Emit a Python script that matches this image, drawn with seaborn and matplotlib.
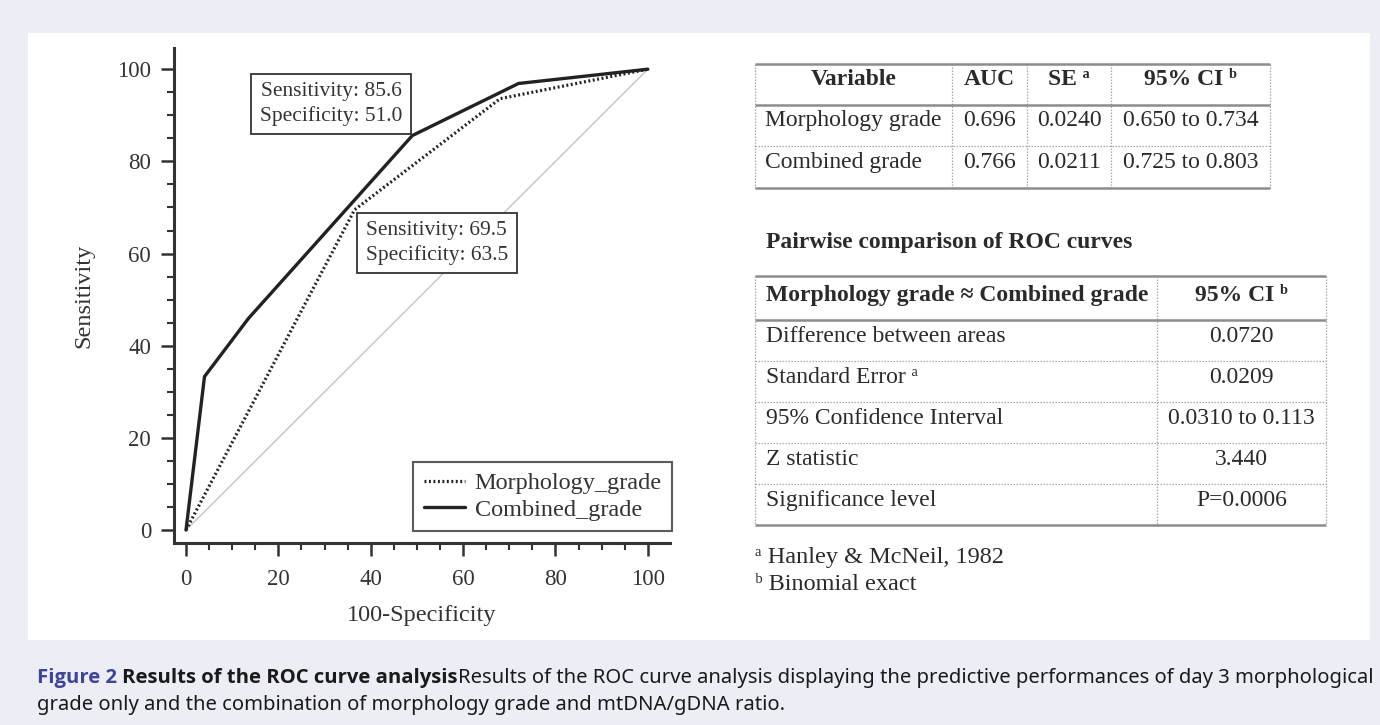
import numpy as np
import pandas as pd
import matplotlib
matplotlib.use("Agg")
import matplotlib.pyplot as plt
import seaborn as sns
from matplotlib.lines import Line2D
from matplotlib.patches import Rectangle
from matplotlib.ticker import MultipleLocator
from matplotlib import font_manager as fm

# ---------------- data ----------------
fpr_morph = [0, 36.5, 68.0, 100]
tpr_morph = [0, 69.5, 93.6, 100]
fpr_comb = [0, 4.0, 13.5, 49.0, 72.0, 100]
tpr_comb = [0, 33.3, 45.9, 85.6, 96.9, 100]
ref_line = [0, 100]
series_names = ["Morphology_grade", "Combined_grade"]
annot_comb = ["Sensitivity: 85.6", "Specificity: 51.0"]
annot_morph = ["Sensitivity: 69.5", "Specificity: 63.5"]
x_ticks = [0, 20, 40, 60, 80, 100]
y_ticks = [0, 20, 40, 60, 80, 100]
x_label = "100-Specificity"
y_label = "Sensitivity"

auc_header = ["Variable", "AUC", "SE \u1d43", "95% CI \u1d47"]
auc_variables = ["Morphology grade", "Combined grade"]
auc_values = ["0.696", "0.766"]
se_values = ["0.0240", "0.0211"]
ci_values = ["0.650 to 0.734", "0.725 to 0.803"]

pair_title = "Pairwise comparison of ROC curves"
pair_header = ["Morphology grade \u2248 Combined grade", "95% CI \u1d47"]
pair_labels = ["Difference between areas", "Standard Error \u1d43",
               "95% Confidence Interval", "Z statistic", "Significance level"]
pair_values = ["0.0720", "0.0209", "0.0310 to 0.113", "3.440", "P=0.0006"]
footnotes = ["\u1d43 Hanley & McNeil, 1982", "\u1d47 Binomial exact"]

caption_label = "Figure 2"
caption_title = "Results of the ROC curve analysis"
caption_line1 = ("Results of the ROC curve analysis displaying the predictive "
                 "performances of day 3 morphological")
caption_line2 = "grade only and the combination of morphology grade and mtDNA/gDNA ratio."

# ---------------- style ----------------
sns.set_theme(style="ticks")
SERIF = ["Liberation Serif", "DejaVu Serif", "DejaVu Sans"]
SANS = ["Noto Sans", "DejaVu Sans"]


def has_bold(name):
    for f in fm.fontManager.ttflist:
        if f.name == name and f.style == "normal":
            w = f.weight
            if isinstance(w, str):
                w = fm.weight_dict.get(w, 400)
            if w >= 600:
                return True
    return False


_bold_family = next((n for n in ["Noto Sans", "Open Sans", "Lato"] if has_bold(n)), "DejaVu Sans")
SANS_BOLD = [_bold_family, "DejaVu Sans"]

plt.rcParams["font.family"] = SERIF
plt.rcParams["axes.unicode_minus"] = False
INK = "#333333"

W, H = 1380, 725
fig = plt.figure(figsize=(W / 100, H / 100), dpi=100)
fig.patch.set_facecolor("#ECEDF5")

# overlay in pixel coordinates for panel, tables and caption
ov = fig.add_axes([0, 0, 1, 1], zorder=0)
ov.set_xlim(0, W)
ov.set_ylim(H, 0)
ov.axis("off")
ov.add_patch(Rectangle((28, 33), 1342, 607, fc="white", ec="none"))

# ---------------- ROC axes ----------------
ax = fig.add_axes([174 / W, (H - 543) / H, (670 - 174) / W, (543 - 48) / H], zorder=2)
ax.patch.set_alpha(0)

sns.lineplot(x=ref_line, y=ref_line, ax=ax, color="#c4c4c4", lw=1.0,
             estimator=None, sort=False, zorder=1)
df_m = pd.DataFrame({"fpr": fpr_morph, "tpr": tpr_morph})
df_c = pd.DataFrame({"fpr": fpr_comb, "tpr": tpr_comb})
sns.lineplot(data=df_m, x="fpr", y="tpr", ax=ax, color="#222222", lw=2.3,
             linestyle=(0, (0.6, 0.8)), estimator=None, sort=False, zorder=3)
sns.lineplot(data=df_c, x="fpr", y="tpr", ax=ax, color="#222222", lw=2.4,
             estimator=None, sort=False, zorder=3)
line_morph = ax.lines[1]
line_comb = ax.lines[2]

ax.set_xlim(-2.6, 104.8)
ax.set_ylim(-2.8, 104.6)
ax.set_xticks(x_ticks)
ax.set_yticks(y_ticks)
ax.xaxis.set_minor_locator(MultipleLocator(5))
ax.yaxis.set_minor_locator(MultipleLocator(5))
sns.despine(ax=ax)
for s in ["left", "bottom"]:
    ax.spines[s].set_linewidth(2.2)
    ax.spines[s].set_color(INK)
ax.tick_params(which="major", length=9.5, width=1.8, color=INK,
               labelsize=16.5, labelcolor=INK)
ax.tick_params(axis="x", which="major", pad=9)
ax.tick_params(axis="y", which="major", pad=7)
ax.tick_params(which="minor", length=4.8, width=1.5, color=INK)
ax.grid(False)
ax.set_xlabel(x_label, fontsize=17.5, color=INK, labelpad=11)
ax.set_ylabel(y_label, fontsize=17.5, color=INK, labelpad=16)

pad_frac = 0.4
fs_ann = 15.5
pad_pt = pad_frac * fs_ann
box = dict(boxstyle=f"square,pad={pad_frac}", fc="white", ec=INK, lw=1.3)
ax.annotate("\n".join(annot_comb), xy=(fpr_comb[3], tpr_comb[3]),
            xytext=(-pad_pt - 1, pad_pt + 1), textcoords="offset points",
            ha="right", va="bottom", fontsize=fs_ann, color=INK,
            linespacing=1.3, bbox=box, zorder=6)
ax.annotate("\n".join(annot_morph), xy=(fpr_morph[1], tpr_morph[1]),
            xytext=(pad_pt + 2, -pad_pt - 2), textcoords="offset points",
            ha="left", va="top", fontsize=fs_ann, color=INK,
            linespacing=1.3, bbox=box, zorder=6)

leg = ax.legend([line_morph, line_comb], series_names, loc="lower right",
                bbox_to_anchor=(1.004, 0.024), frameon=True, fancybox=False,
                edgecolor=INK, fontsize=17.5, handlelength=1.7, handletextpad=0.4,
                borderpad=0.42, labelspacing=0.2, borderaxespad=0)
leg.get_frame().set_linewidth(1.5)
for t in leg.get_texts():
    t.set_color(INK)

# ---------------- tables ----------------
SOLID = dict(color="#8c8c8c", lw=1.8, solid_capstyle="butt")
DOT = dict(color="#a8a8a8", lw=0.9, linestyle=(0, (1.2, 1.2)))
TXT = "#2a2a2a"
fs_tab = 17


def hline(x0, x1, y, style):
    ov.add_line(Line2D([x0, x1], [y, y], **style))


def vline(x, y0, y1, style):
    ov.add_line(Line2D([x, x], [y0, y1], **style))


# table 1
t1_x = [755, 952, 1027, 1111, 1270]
t1_y = [64, 105, 146, 188]
for x in t1_x:
    vline(x, t1_y[0], t1_y[-1], DOT)
hline(t1_x[0], t1_x[-1], t1_y[0], SOLID)
hline(t1_x[0], t1_x[-1], t1_y[1], SOLID)
hline(t1_x[0], t1_x[-1], t1_y[2], DOT)
hline(t1_x[0], t1_x[-1], t1_y[3], SOLID)
centers1 = [(t1_x[i] + t1_x[i + 1]) / 2 for i in range(4)]
for i, h in enumerate(auc_header):
    ov.text(centers1[i], (t1_y[0] + t1_y[1]) / 2 - 5, h, ha="center", va="center",
            fontsize=fs_tab, fontweight="bold", color=TXT)
for r in range(2):
    yc = (t1_y[r + 1] + t1_y[r + 2]) / 2 - 5
    ov.text(t1_x[0] + 10, yc, auc_variables[r], ha="left", va="center",
            fontsize=fs_tab, color=TXT)
    ov.text(centers1[1], yc, auc_values[r], ha="center", va="center", fontsize=fs_tab, color=TXT)
    ov.text(centers1[2], yc, se_values[r], ha="center", va="center", fontsize=fs_tab, color=TXT)
    ov.text(centers1[3], yc, ci_values[r], ha="center", va="center", fontsize=fs_tab, color=TXT)

# pairwise title
ov.text(766, 242, pair_title, ha="left", va="center", fontsize=17,
        fontweight="bold", color=TXT)

# table 2
t2_x = [755, 1157, 1326]
t2_y = [276, 320, 361, 402, 443, 484, 525]
for x in t2_x:
    vline(x, t2_y[0], t2_y[-1], DOT)
for j, y in enumerate(t2_y):
    hline(t2_x[0], t2_x[-1], y, SOLID if j in (0, 1, len(t2_y) - 1) else DOT)
c2 = (t2_x[1] + t2_x[2]) / 2
ov.text(t2_x[0] + 11, (t2_y[0] + t2_y[1]) / 2 - 3, pair_header[0], ha="left",
        va="center", fontsize=fs_tab, fontweight="bold", color=TXT)
ov.text(c2, (t2_y[0] + t2_y[1]) / 2 - 3, pair_header[1], ha="center",
        va="center", fontsize=fs_tab, fontweight="bold", color=TXT)
for r in range(len(pair_labels)):
    yc = (t2_y[r + 1] + t2_y[r + 2]) / 2 - 4
    ov.text(t2_x[0] + 11, yc, pair_labels[r], ha="left", va="center",
            fontsize=fs_tab, color=TXT)
    ov.text(c2, yc, pair_values[r], ha="center", va="center", fontsize=fs_tab, color=TXT)

for k, fn in enumerate(footnotes):
    ov.text(755, 557 + 27 * k, fn, ha="left", va="center", fontsize=17.5, color=TXT)

# ---------------- caption ----------------
renderer = fig.canvas.get_renderer()
x0, x_end = 37, 1373
y1, y2 = 678, 705
parts = [(caption_label, "bold", "#3d4594", SANS_BOLD),
         (caption_title, "bold", "#1a1a1a", SANS_BOLD),
         (caption_line1, "normal", "#1a1a1a", SANS)]
fs_cap = 12.0
cap_texts = []
for it in range(4):
    for t in cap_texts:
        t.remove()
    cap_texts = []
    x = x0
    for k, (s, wt, col, fam) in enumerate(parts):
        t = ov.text(x, y1, s, ha="left", va="center", fontsize=fs_cap,
                    fontweight=wt, color=col, family=fam)
        cap_texts.append(t)
        bb = t.get_window_extent(renderer)
        x = bb.x1 + (0.35 * fs_cap if k == 0 else 0)
    right = cap_texts[-1].get_window_extent(renderer).x1
    fs_cap = fs_cap * (x_end - x0) / (right - x0)
ov.text(x0, y2, caption_line2, ha="left", va="center", fontsize=cap_texts[0].get_fontsize(),
        color="#1a1a1a", family=SANS)

fig.savefig("out.png", dpi=100, facecolor=fig.get_facecolor())
